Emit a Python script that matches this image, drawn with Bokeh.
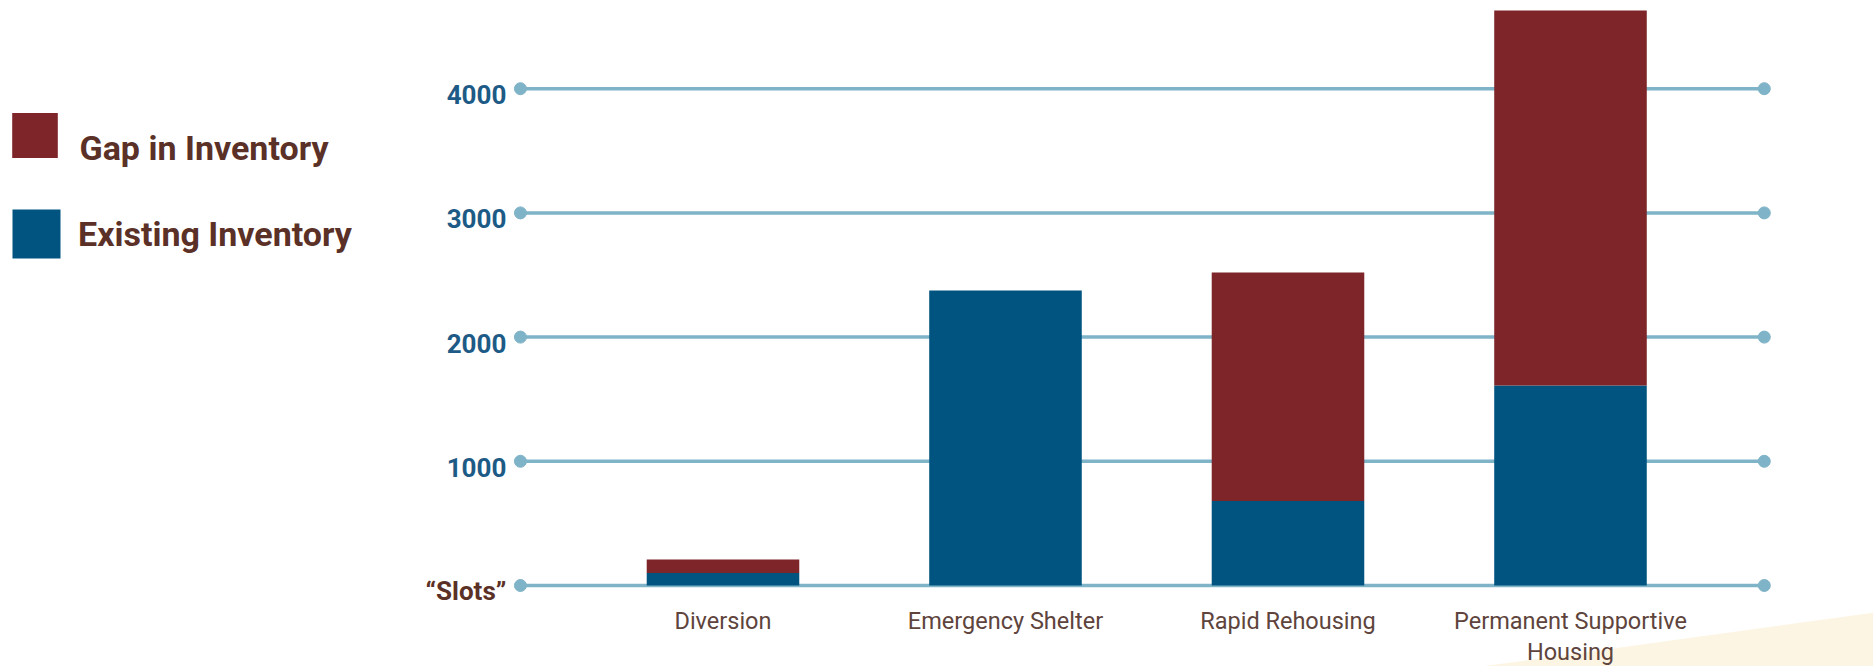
from bokeh.plotting import figure
from bokeh.models import (ColumnDataSource, Range1d, FixedTicker, Legend, LegendItem,
                          Label)
from bokeh.core.properties import value
from bokeh.embed import file_html
from bokeh.resources import INLINE

# ---- data -------------------------------------------------------------
categories = ["Diversion", "Emergency Shelter", "Rapid Rehousing",
              "Permanent Supportive\nHousing"]
existing_inventory = [100, 2375, 680, 1610]
gap_in_inventory = [110, 0, 1840, 3020]

y_ticks = [0, 1000, 2000, 3000, 4000]
y_tick_labels = ["\u201cSlots\u201d", "1000", "2000", "3000", "4000"]

# ---- styling ----------------------------------------------------------
RED = "#7d2529"
BLUE = "#01547f"
GRID = "#7fb3c7"
TICK_BLUE = "#1d5b86"
BROWN = "#5b3127"
LABEL_BROWN = "#5e443c"
CREAM = "#fdf5e4"
LEGEND_FONT = dict(text_font="Roboto", text_font_style="bold",
                   text_font_size="34px", text_color=BROWN)

positions = list(range(len(categories)))
source = ColumnDataSource(dict(
    x=positions,
    existing=existing_inventory,
    gap=gap_in_inventory,
))

p = figure(width=1873, height=666,
           x_range=Range1d(-2.5575, 4.0726),
           y_range=Range1d(-652.2, 4710.1),
           y_axis_location=None,
           min_border_left=0, min_border_right=0, min_border_top=0,
           min_border_bottom=0,
           output_backend="svg", toolbar_location=None)
p.outline_line_color = None
p.xgrid.visible = False
p.ygrid.visible = False
p.background_fill_color = "white"
p.border_fill_color = "white"

# soft cream wedge in the lower right corner
p.patch(x=[2.685, 4.08, 4.08], y=[-652.2, -217.4, -652.2],
        fill_color=CREAM, line_color=None, level="underlay")

# horizontal rules with round end caps
grid_left, grid_right = -0.717, 3.686
p.segment(x0=grid_left, x1=grid_right, y0=y_ticks, y1=y_ticks,
          line_color=GRID, line_width=3.5, level="underlay")
p.scatter(x=[grid_left] * len(y_ticks) + [grid_right] * len(y_ticks),
          y=y_ticks * 2, size=12, color=GRID, level="underlay")

# stacked bars
bars = p.vbar_stack(["existing", "gap"], x="x", width=0.54,
                    color=[BLUE, RED], line_color=None, source=source)

# y tick labels
tick_colors = [BROWN] + [TICK_BLUE] * (len(y_ticks) - 1)
p.text(x=[grid_left - 0.05] * len(y_ticks), y=y_ticks, text=y_tick_labels,
       text_color=tick_colors, text_align="right", text_baseline="middle",
       y_offset=6, text_font=value("Roboto"), text_font_style="bold",
       text_font_size="26px")

# category axis, pinned to the zero rule
ax = p.xaxis[0]
ax.fixed_location = 0
ax.ticker = FixedTicker(ticks=positions)
ax.major_label_overrides = {i: c for i, c in zip(positions, categories)}
ax.axis_line_color = None
ax.major_tick_line_color = None
ax.minor_tick_line_color = None
ax.major_label_standoff = 16
ax.major_label_text_font = "Roboto"
ax.major_label_text_font_size = "23.5px"
ax.major_label_text_line_height = 1.1
ax.major_label_text_color = LABEL_BROWN
ax.major_label_text_align = "center"

# legend swatches, one block per series
def add_legend(label, renderer, loc, gw, gh, standoff):
    lg = Legend(items=[LegendItem(label=label, renderers=[renderer])],
                location=loc, orientation="vertical",
                glyph_width=gw, glyph_height=gh,
                label_standoff=standoff, padding=0, margin=0, spacing=0,
                border_line_color=None, background_fill_alpha=0,
                label_text_font=LEGEND_FONT["text_font"],
                label_text_font_style=LEGEND_FONT["text_font_style"],
                label_text_font_size=LEGEND_FONT["text_font_size"],
                label_text_color=LEGEND_FONT["text_color"])
    p.add_layout(lg)

# the "gap" caption sits a little below its swatch, so it is set separately
add_legend(" ", bars[1], (6, 503.5), 57, 56, 15)
p.add_layout(Label(x=79, y=666 - 147, x_units="screen", y_units="screen",
                   text="Gap in Inventory", text_baseline="middle",
                   **LEGEND_FONT))
add_legend("Existing Inventory", bars[0], (6, 402), 60, 61, 12)

open("out.html", "w").write(file_html(p, INLINE))
